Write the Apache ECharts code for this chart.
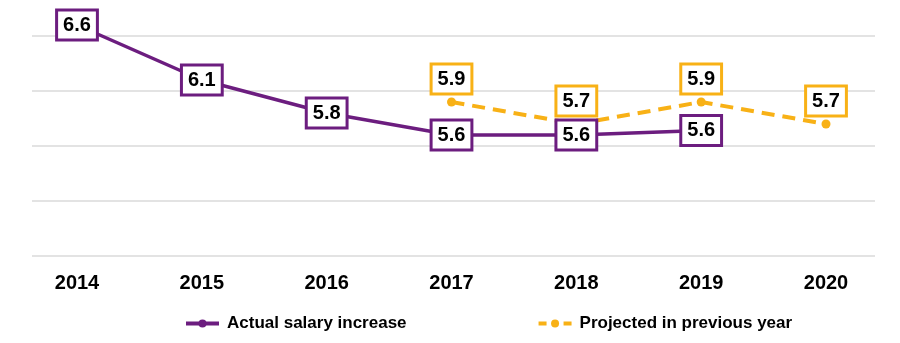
<!DOCTYPE html>
<html>
<head>
<meta charset="utf-8">
<script src="https://cdn.jsdelivr.net/npm/echarts@6/dist/echarts.min.js"></script>
<style>
html,body{margin:0;padding:0;background:#fff;}
#c{width:900px;height:343px;}
</style>
</head>
<body>
<div id="c"></div>
<script>
var years = ['2014','2015','2016','2017','2018','2019','2020'];
var actual = [6.6, 6.1, 5.8, 5.6, 5.6, 5.64, null];
var projected = [null, null, null, 5.9, 5.7, 5.9, 5.7];
var yMin = 4.5, yMax = 6.5, yStep = 0.5;

var PURPLE = '#6c1d7f';
var ORANGE = '#f8b116';
var FONT = '"Liberation Sans", Arial, sans-serif';

function boxLabel(color, pos, dist) {
  return {
    show: true,
    position: pos,
    distance: dist,
    formatter: function (p) { return p.value == null ? '' : Number(p.value).toFixed(1); },
    fontFamily: FONT,
    fontWeight: 'bold',
    fontSize: 20,
    lineHeight: 20,
    color: '#000',
    backgroundColor: '#fff',
    borderColor: color,
    borderWidth: 3,
    borderRadius: 0,
    padding: [4, 5, 3, 5]
  };
}

var chart = echarts.init(document.getElementById('c'), null, {renderer: 'canvas'});
chart.setOption({
  animation: false,
  backgroundColor: '#fff',
  grid: [
    {left: 32, right: 25, top: 36, bottom: 87},
    {left: 77, right: 74, top: 36, bottom: 87}
  ],
  xAxis: [
    {type: 'value', gridIndex: 0, min: 0, max: 1, show: false},
    {type: 'category', gridIndex: 1, data: years, boundaryGap: false,
     axisLine: {show: false}, axisTick: {show: false}, splitLine: {show: false},
     axisLabel: {margin: 17, fontFamily: FONT, fontWeight: 'bold', fontSize: 20, color: '#000'}}
  ],
  yAxis: [
    {type: 'value', gridIndex: 0, min: yMin, max: yMax, interval: yStep,
     axisLine: {show: false}, axisTick: {show: false}, axisLabel: {show: false},
     splitLine: {show: true, lineStyle: {color: '#dadada', width: 1.5}}},
    {type: 'value', gridIndex: 1, min: yMin, max: yMax, interval: yStep,
     axisLine: {show: false}, axisTick: {show: false}, axisLabel: {show: false},
     splitLine: {show: false}}
  ],
  legend: {
    left: 179,
    top: 310,
    itemGap: 130,
    itemWidth: 33,
    itemHeight: 10,
    textStyle: {fontFamily: FONT, fontWeight: 'bold', fontSize: 17, color: '#000', padding: [0, 0, 0, 3]},
    data: [
      {name: 'Actual salary increase', lineStyle: {width: 4}},
      {name: 'Projected in previous year', lineStyle: {type: [8, 17], width: 4}}
    ]
  },
  series: [
    {
      name: 'Projected in previous year',
      type: 'line',
      xAxisIndex: 1, yAxisIndex: 1,
      data: projected,
      clip: false,
      z: 2,
      symbol: 'circle',
      symbolSize: 9,
      itemStyle: {color: ORANGE},
      lineStyle: {color: ORANGE, width: 4, type: [13, 8]},
      label: boxLabel(ORANGE, 'top', 5)
    },
    {
      name: 'Actual salary increase',
      type: 'line',
      xAxisIndex: 1, yAxisIndex: 1,
      data: actual,
      clip: false,
      z: 3,
      symbol: 'circle',
      symbolSize: 9,
      itemStyle: {color: PURPLE},
      lineStyle: {color: PURPLE, width: 3.5},
      label: boxLabel(PURPLE, 'inside', 0)
    }
  ]
});
</script>
</body>
</html>
